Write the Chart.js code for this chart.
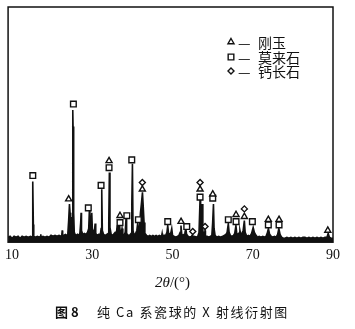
<!DOCTYPE html>
<html>
<head>
<meta charset="utf-8">
<script src="https://cdn.jsdelivr.net/npm/chart.js@4/dist/chart.umd.min.js"></script>
<style>
  html, body { margin:0; padding:0; background:#fff; }
  #wrap { position:relative; width:355px; height:329px; background:#fff; overflow:hidden; }
  #c { position:absolute; left:0; top:0; }
  .cjk { font-family:"Noto Sans CJK SC", "Noto Sans", sans-serif; color:#111; position:absolute; white-space:pre; line-height:1; }
  .serif { font-family:"Liberation Serif", "DejaVu Serif", serif; color:#111; position:absolute; white-space:pre; line-height:1; }
</style>
</head>
<body>
<div id="wrap">
  <canvas id="c" width="355" height="329"></canvas>
  <div class="cjk" style="left:238px;top:35px;font-size:14px;">—</div>
  <div class="cjk" style="left:258px;top:35px;font-size:14px;">刚玉</div>
  <div class="cjk" style="left:238px;top:50px;font-size:14px;">—</div>
  <div class="cjk" style="left:258px;top:50px;font-size:14px;">莫来石</div>
  <div class="cjk" style="left:238px;top:64px;font-size:14px;">—</div>
  <div class="cjk" style="left:258px;top:64px;font-size:14px;">钙长石</div>
  <div class="serif" style="left:155px;top:275px;font-size:15px;"><i>2θ</i>/(°)</div>
  <div class="cjk" style="left:55px;top:305px;font-size:13px;font-weight:bold;">图 8</div>
  <div class="cjk" style="left:97px;top:305px;font-size:13px;letter-spacing:1.6px;">纯 Ca 系瓷球的 X 射线衍射图</div>
</div>
<script>
// ---- data ----
const twoTheta = [
  9.0, 9.5, 10.0, 10.5, 11.0, 11.5, 12.0, 12.5, 13.0, 13.5, 14.0, 14.6, 15.0, 15.1, 15.2, 15.3, 15.4, 15.8, 16.3, 16.8,
  17.05, 17.15, 17.25, 17.7, 18.2, 18.7, 19.2, 19.7, 20.2, 20.7, 21.2, 21.7, 22.2, 22.4, 22.5, 22.6, 22.9, 23.3, 23.7, 23.9,
  24.1, 24.3, 24.45, 24.6, 24.8, 24.95, 25.1, 25.15, 25.2, 25.35, 25.5, 25.7, 26.0, 26.3, 26.6, 26.9, 27.1, 27.2, 27.3, 27.6,
  28.0, 28.4, 28.8, 29.1, 29.26, 29.4, 29.6, 29.86, 30.0, 30.3, 30.55, 30.7, 30.85, 31.2, 31.6, 32.0, 32.2, 32.35, 32.5, 32.8,
  33.2, 33.6, 34.0, 34.1, 34.25, 34.4, 34.7, 35.0, 35.3, 35.7, 36.0, 36.2, 36.4, 36.6, 36.8, 37.0, 37.2, 37.4, 37.6, 37.9,
  38.2, 38.4, 38.55, 38.9, 39.3, 39.7, 39.85, 40.0, 40.15, 40.4, 40.8, 41.1, 41.3, 41.5, 41.75, 42.0, 42.2, 42.5, 42.7, 42.9,
  43.1, 43.5, 43.9, 44.3, 44.7, 45.1, 45.5, 45.9, 46.3, 46.7, 47.1, 47.3, 47.4, 47.5, 47.9, 48.3, 48.6, 48.8, 49.0, 49.3,
  49.6, 49.8, 50.0, 50.4, 50.8, 51.2, 51.6, 51.9, 52.1, 52.3, 52.6, 52.9, 53.1, 53.3, 53.5, 53.9, 54.3, 54.7, 54.9, 55.0,
  55.1, 55.5, 55.9, 56.3, 56.6, 56.85, 57.0, 57.2, 57.4, 57.55, 57.8, 58.0, 58.1, 58.2, 58.6, 59.0, 59.4, 59.8, 60.0, 60.2,
  60.35, 60.6, 61.0, 61.5, 62.0, 62.5, 62.9, 63.3, 63.6, 63.9, 64.1, 64.4, 64.8, 65.2, 65.5, 65.8, 66.0, 66.4, 66.7, 66.8,
  67.0, 67.3, 67.6, 67.9, 68.1, 68.5, 68.9, 69.3, 69.7, 70.1, 70.4, 70.8, 71.2, 71.6, 72.0, 72.5, 72.9, 73.3, 73.6, 73.9,
  74.2, 74.6, 75.0, 75.4, 75.8, 76.2, 76.5, 76.8, 77.2, 77.6, 78.0, 78.5, 79.0, 79.5, 80.0, 80.5, 81.0, 81.5, 82.0, 82.5,
  83.0, 83.5, 84.0, 84.5, 85.0, 85.5, 86.0, 86.5, 87.0, 87.5, 88.0, 88.5, 88.8, 89.1, 89.5, 90.0
];
const intensity = [
  5, 6, 4, 6, 5, 6, 4, 6, 5, 6, 5, 6, 5, 20, 62, 18, 6, 5, 6, 5,
  6, 8, 5, 6, 5, 6, 5, 7, 6, 7, 6, 7, 6, 8, 12, 7, 7, 8, 7, 9,
  22, 39, 30, 20, 14, 25, 118, 135, 118, 30, 10, 8, 7, 8, 7, 9, 20, 30, 12, 8,
  9, 8, 10, 14, 32, 12, 16, 30, 14, 10, 12, 19, 9, 7, 8, 8, 14, 54, 12, 8,
  7, 8, 9, 20, 71, 15, 8, 7, 8, 10, 9, 17, 8, 10, 17, 9, 10, 14, 8, 7,
  10, 24, 9, 7, 7, 9, 40, 80, 12, 7, 9, 12, 19, 10, 16, 30, 38, 51, 36, 20,
  9, 7, 6, 7, 6, 7, 6, 7, 6, 7, 6, 7, 9, 6, 7, 7, 10, 17, 9, 8,
  10, 14, 7, 6, 5, 6, 7, 10, 17, 8, 7, 8, 10, 14, 8, 6, 5, 6, 7, 8,
  5, 6, 5, 6, 10, 43, 25, 30, 39, 12, 7, 9, 12, 6, 6, 5, 6, 7, 20, 39,
  14, 7, 5, 6, 5, 6, 7, 8, 10, 19, 10, 7, 6, 7, 9, 17, 9, 8, 10, 12,
  8, 9, 12, 22, 10, 6, 7, 6, 9, 15, 10, 7, 5, 6, 5, 6, 5, 6, 9, 14,
  8, 6, 5, 6, 5, 8, 14, 8, 5, 4, 4, 5, 4, 5, 4, 5, 4, 5, 4, 5,
  5, 4, 5, 4, 5, 4, 5, 4, 5, 4, 5, 5, 9, 5, 4, 4
];
// phase markers (2θ, marker height in intensity units)
const corundumX  = [24.1, 34.17, 36.9, 42.47, 52.12, 56.86, 60.02, 65.83, 67.9, 73.88, 76.55, 88.7];
const corundumY  = [44, 83, 27, 54, 21, 54, 49, 28, 26, 23, 23, 12];
const mulliteX   = [15.16, 25.28, 29.0, 32.18, 34.17, 36.9, 38.6, 39.83, 41.48, 48.8, 53.54, 56.86, 60.02, 63.9, 65.83, 69.9, 73.88, 76.55];
const mulliteY   = [68, 141, 35, 58, 76, 20, 27, 84, 23, 21, 16, 46, 45, 23, 21, 21, 17.7, 17.7];
const anorthiteX = [42.47, 55.04, 56.86, 58.1, 67.9];
const anorthiteY = [61, 11, 61, 16, 34];
const xTickValues = [10, 30, 50, 70, 90];
const phaseNames = ['刚玉', '莫来石', '钙长石'];

const zip = (xs, ys) => xs.map((x, i) => ({x: x, y: ys[i]}));

const framePlugin = {
  id: 'frame',
  afterDatasetsDraw(chart) {
    const a = chart.chartArea, ctx = chart.ctx;
    ctx.save();
    ctx.strokeStyle = '#111';
    ctx.lineWidth = 1.5;
    ctx.strokeRect(a.left, a.top, a.right - a.left, a.bottom - a.top);
    ctx.restore();
  }
};

const legendMarks = {
  id: 'legendMarks',
  afterDraw(chart) {
    const ctx = chart.ctx;
    const styles = ['triangle', 'rect', 'rectRot'];
    const radii = [3.5, 4, 3];
    const x = 231, ys = [42, 57, 71];
    ctx.save();
    ctx.fillStyle = '#fff';
    ctx.strokeStyle = '#111';
    ctx.lineWidth = 1.4;
    styles.forEach((s, i) => {
      Chart.helpers.drawPoint(ctx, {pointStyle: s, radius: radii[i], rotation: 0, borderWidth: 1.4}, x, ys[i]);
    });
    ctx.restore();
  }
};

new Chart(document.getElementById('c'), {
  data: {
    datasets: [
      { type: 'scatter', label: phaseNames[0], data: zip(corundumX, corundumY), pointStyle: 'triangle', pointRadius: 3.5,
        backgroundColor: '#fff', borderColor: '#111', borderWidth: 1.4, order: 1 },
      { type: 'scatter', label: phaseNames[1], data: zip(mulliteX, mulliteY), pointStyle: 'rect', pointRadius: 4,
        backgroundColor: '#fff', borderColor: '#111', borderWidth: 1.4, order: 1 },
      { type: 'scatter', label: phaseNames[2], data: zip(anorthiteX, anorthiteY), pointStyle: 'rectRot', pointRadius: 3,
        backgroundColor: '#fff', borderColor: '#111', borderWidth: 1.4, order: 1 },
      { type: 'line', label: 'XRD', data: zip(twoTheta, intensity), borderColor: '#111', borderWidth: 1.6,
        backgroundColor: '#111', fill: 'origin', pointRadius: 0, tension: 0, order: 2 }
    ]
  },
  options: {
    responsive: false,
    animation: false,
    devicePixelRatio: 1,
    layout: { padding: { left: 8, right: 22, top: 7, bottom: 60 } },
    plugins: { legend: { display: false }, tooltip: { enabled: false } },
    scales: {
      x: {
        type: 'linear', min: 9, max: 90,
        afterBuildTicks: (scale) => { scale.ticks = xTickValues.map(v => ({value: v})); },
        grid: { display: false, drawTicks: false },
        border: { display: false },
        ticks: { padding: 5, color: '#111', font: { family: 'Liberation Serif', size: 14 } }
      },
      y: { display: false, min: 0, max: 240 }
    }
  },
  plugins: [framePlugin, legendMarks]
});
</script>
</body>
</html>
